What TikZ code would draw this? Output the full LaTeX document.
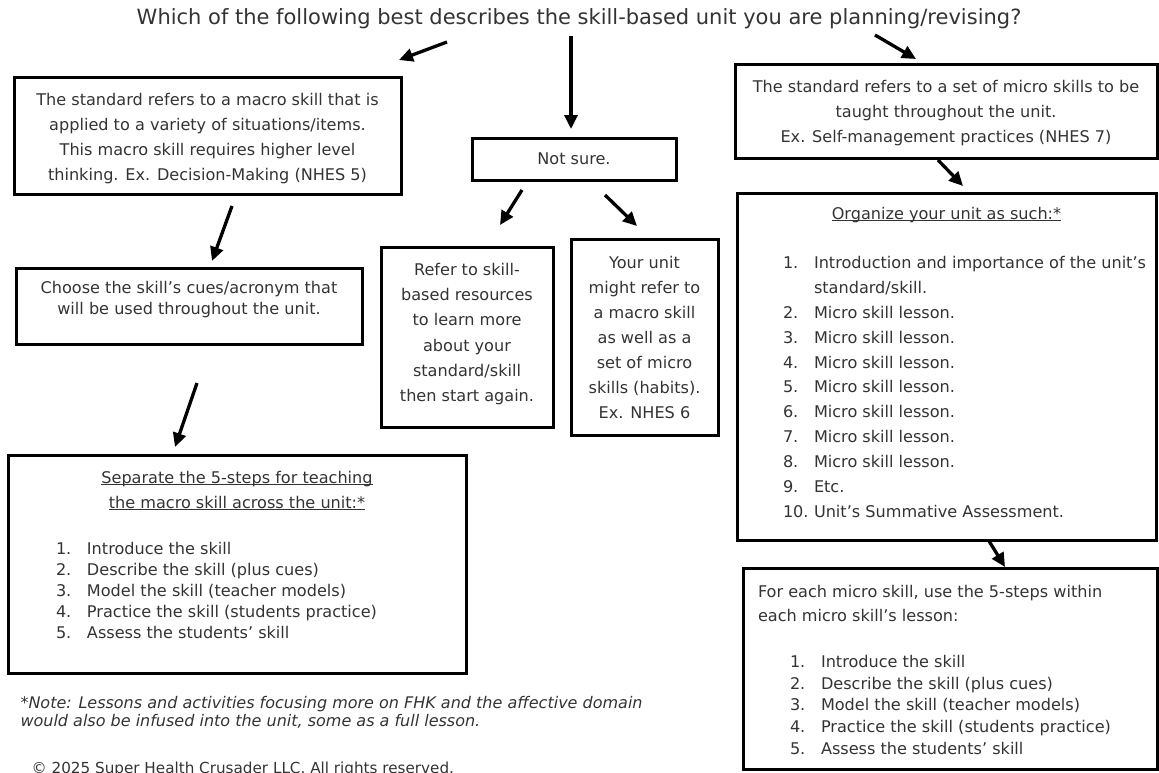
\documentclass[tikz,border=0pt]{standalone}
\usepackage{fontspec}
\setmainfont{DejaVu Sans}[ItalicFont={DejaVu Sans Oblique}]
\usepackage{tikz}
\usetikzlibrary{arrows.meta}
\usetikzlibrary{positioning}
\definecolor{ink}{gray}{0.2}
\tikzstyle{base}=[x=1pt, y=-1pt, inner sep=0pt, outer sep=0pt, text=ink]
\tikzstyle{box}=[draw=black, line width=3pt, anchor=north west]
\tikzstyle{arrow}=[line width=3.3pt, -{Triangle[length=14pt,width=13pt]}]
\newsavebox{\headbox}
\newcommand*{\underscored}[1]{\sbox{\headbox}{#1}\rlap{\rule[-2pt]{\wd\headbox}{1pt}}\usebox{\headbox}}
\newcommand*{\boxbody}[4]{\begin{minipage}[t][#2pt][t]{#1pt}\vspace*{#3pt}#4\end{minipage}}
\newcommand*{\stepitem}[3]{\hspace*{#1pt}\makebox[31pt][l]{#2}#3}

\begin{document}
\begin{tikzpicture}[base]
    \useasboundingbox (0,0) rectangle (1159,772);
    \node [anchor=base, font=\fontsize{21}{25}\selectfont] (question) at (579,24.5)
        {Which of the following best describes the skill-based unit you are planning/revising?};
    % left column: macro skill
    \node [box] (macro) at (14,77) {\boxbody{387}{117}{10.4}{\centering\fontsize{16.1}{25.2}\selectfont\strut
        The standard refers to a macro skill that is\\
        applied to a variety of situations/items.\\
        This macro skill requires higher level\\
        thinking. Ex. Decision-Making (NHES 5)}};
    \node [box] (choose) at (16,268) {\boxbody{346}{76}{10.7}{\centering\fontsize{16.1}{21}\selectfont\strut
        Choose the skill’s cues/acronym that\\
        will be used throughout the unit.}};
    \node [box] (separate) at (8,455) {\boxbody{458}{218}{13.7}{\fontsize{16.1}{21}\selectfont\strut
        \makebox[\linewidth]{\underscored{Separate the 5-steps for teaching}}\\[3.6pt]
        \makebox[\linewidth]{\underscored{the macro skill across the unit:*}}\\[25pt]
        \stepitem{48}{1.}{Introduce the skill}\\
        \stepitem{48}{2.}{Describe the skill (plus cues)}\\
        \stepitem{48}{3.}{Model the skill (teacher models)}\\
        \stepitem{48}{4.}{Practice the skill (students practice)}\\
        \stepitem{48}{5.}{Assess the students’ skill}}};
    \node [anchor=north west, align=left, font=\fontsize{16}{18.5}\selectfont\itshape] (note) at (20.5,696)
        {*Note: Lessons and activities focusing more on FHK and the affective domain\\
        would also be infused into the unit, some as a full lesson.};
    \node [anchor=base west, font=\fontsize{15.2}{18}\selectfont] (copyright) at (31.6,773)
        {© 2025 Super Health Crusader LLC. All rights reserved.};
    % middle column: not sure
    \node [box, minimum width=204pt, minimum height=42pt, font=\fontsize{16.1}{20}\selectfont] (notsure) at (472,138) {Not sure.};
    \node [box] (refer) at (381,247) {\boxbody{172}{180}{10.5}{\centering\fontsize{16.1}{25.3}\selectfont\strut
        Refer to skill-\\
        based resources\\
        to learn more\\
        about your\\
        standard/skill\\
        then start again.}};
    \node [box] (yourunit) at (571,239) {\boxbody{147}{196}{12.3}{\centering\fontsize{16.1}{24.9}\selectfont\strut
        Your unit\\
        might refer to\\
        a macro skill\\
        as well as a\\
        set of micro\\
        skills (habits).\\
        Ex. NHES 6}};
    % right column: micro skills
    \node [box] (micro) at (735,64) {\boxbody{422}{94}{11.2}{\centering\fontsize{16.1}{25}\selectfont\strut
        The standard refers to a set of micro skills to be\\
        taught throughout the unit.\\
        Ex. Self-management practices (NHES 7)}};
    \node [box] (organize) at (737,193) {\boxbody{419}{347}{9.0}{\fontsize{16.1}{24.9}\selectfont\strut
        \makebox[\linewidth]{\underscored{Organize your unit as such:*}}\\[24.1pt]
        \stepitem{46}{1.}{Introduction and importance of the unit’s}\\
        \hspace*{77pt}standard/skill.\\
        \stepitem{46}{2.}{Micro skill lesson.}\\
        \stepitem{46}{3.}{Micro skill lesson.}\\
        \stepitem{46}{4.}{Micro skill lesson.}\\
        \stepitem{46}{5.}{Micro skill lesson.}\\
        \stepitem{46}{6.}{Micro skill lesson.}\\
        \stepitem{46}{7.}{Micro skill lesson.}\\
        \stepitem{46}{8.}{Micro skill lesson.}\\
        \stepitem{46}{9.}{Etc.}\\
        \stepitem{46}{10.}{Unit’s Summative Assessment.}}};
    \node [box] (eachmicro) at (743,568) {\boxbody{414}{201}{14.2}{\fontsize{16.1}{21.75}\selectfont\strut
        \hspace*{15pt}For each micro skill, use the 5-steps within\\[2.25pt]
        \hspace*{15pt}each micro skill’s lesson:\\[24.25pt]
        \stepitem{47}{1.}{Introduce the skill}\\
        \stepitem{47}{2.}{Describe the skill (plus cues)}\\
        \stepitem{47}{3.}{Model the skill (teacher models)}\\
        \stepitem{47}{4.}{Practice the skill (students practice)}\\
        \stepitem{47}{5.}{Assess the students’ skill}}};
    % arrow ends
    \coordinate (qleft) at (447,42);
    \coordinate (qlefttip) at (399,60);
    \coordinate (qdown) at (571,36);
    \coordinate (qdowntip) at (571,129);
    \coordinate (qright) at (875,35);
    \coordinate (qrighttip) at (916,59);
    \coordinate (macroout) at (232,206);
    \coordinate (choosein) at (212,261);
    \coordinate (chooseout) at (197,383);
    \coordinate (separatein) at (175,447);
    \coordinate (unsureleft) at (522,190);
    \coordinate (referin) at (500,225);
    \coordinate (unsureright) at (605,195);
    \coordinate (yourunitin) at (637,226);
    \coordinate (microout) at (938,160);
    \coordinate (organizein) at (963,186);
    \coordinate (organizeout) at (989,541);
    \coordinate (eachmicroin) at (1005,567);
    \draw [arrow] (qleft) -- (qlefttip);
    \draw [arrow] (qdown) -- (qdowntip);
    \draw [arrow] (qright) -- (qrighttip);
    \draw [arrow] (macroout) -- (choosein);
    \draw [arrow] (chooseout) -- (separatein);
    \draw [arrow] (unsureleft) -- (referin);
    \draw [arrow] (unsureright) -- (yourunitin);
    \draw [arrow] (microout) -- (organizein);
    \draw [arrow] (organizeout) -- (eachmicroin);
\end{tikzpicture}
\end{document}
